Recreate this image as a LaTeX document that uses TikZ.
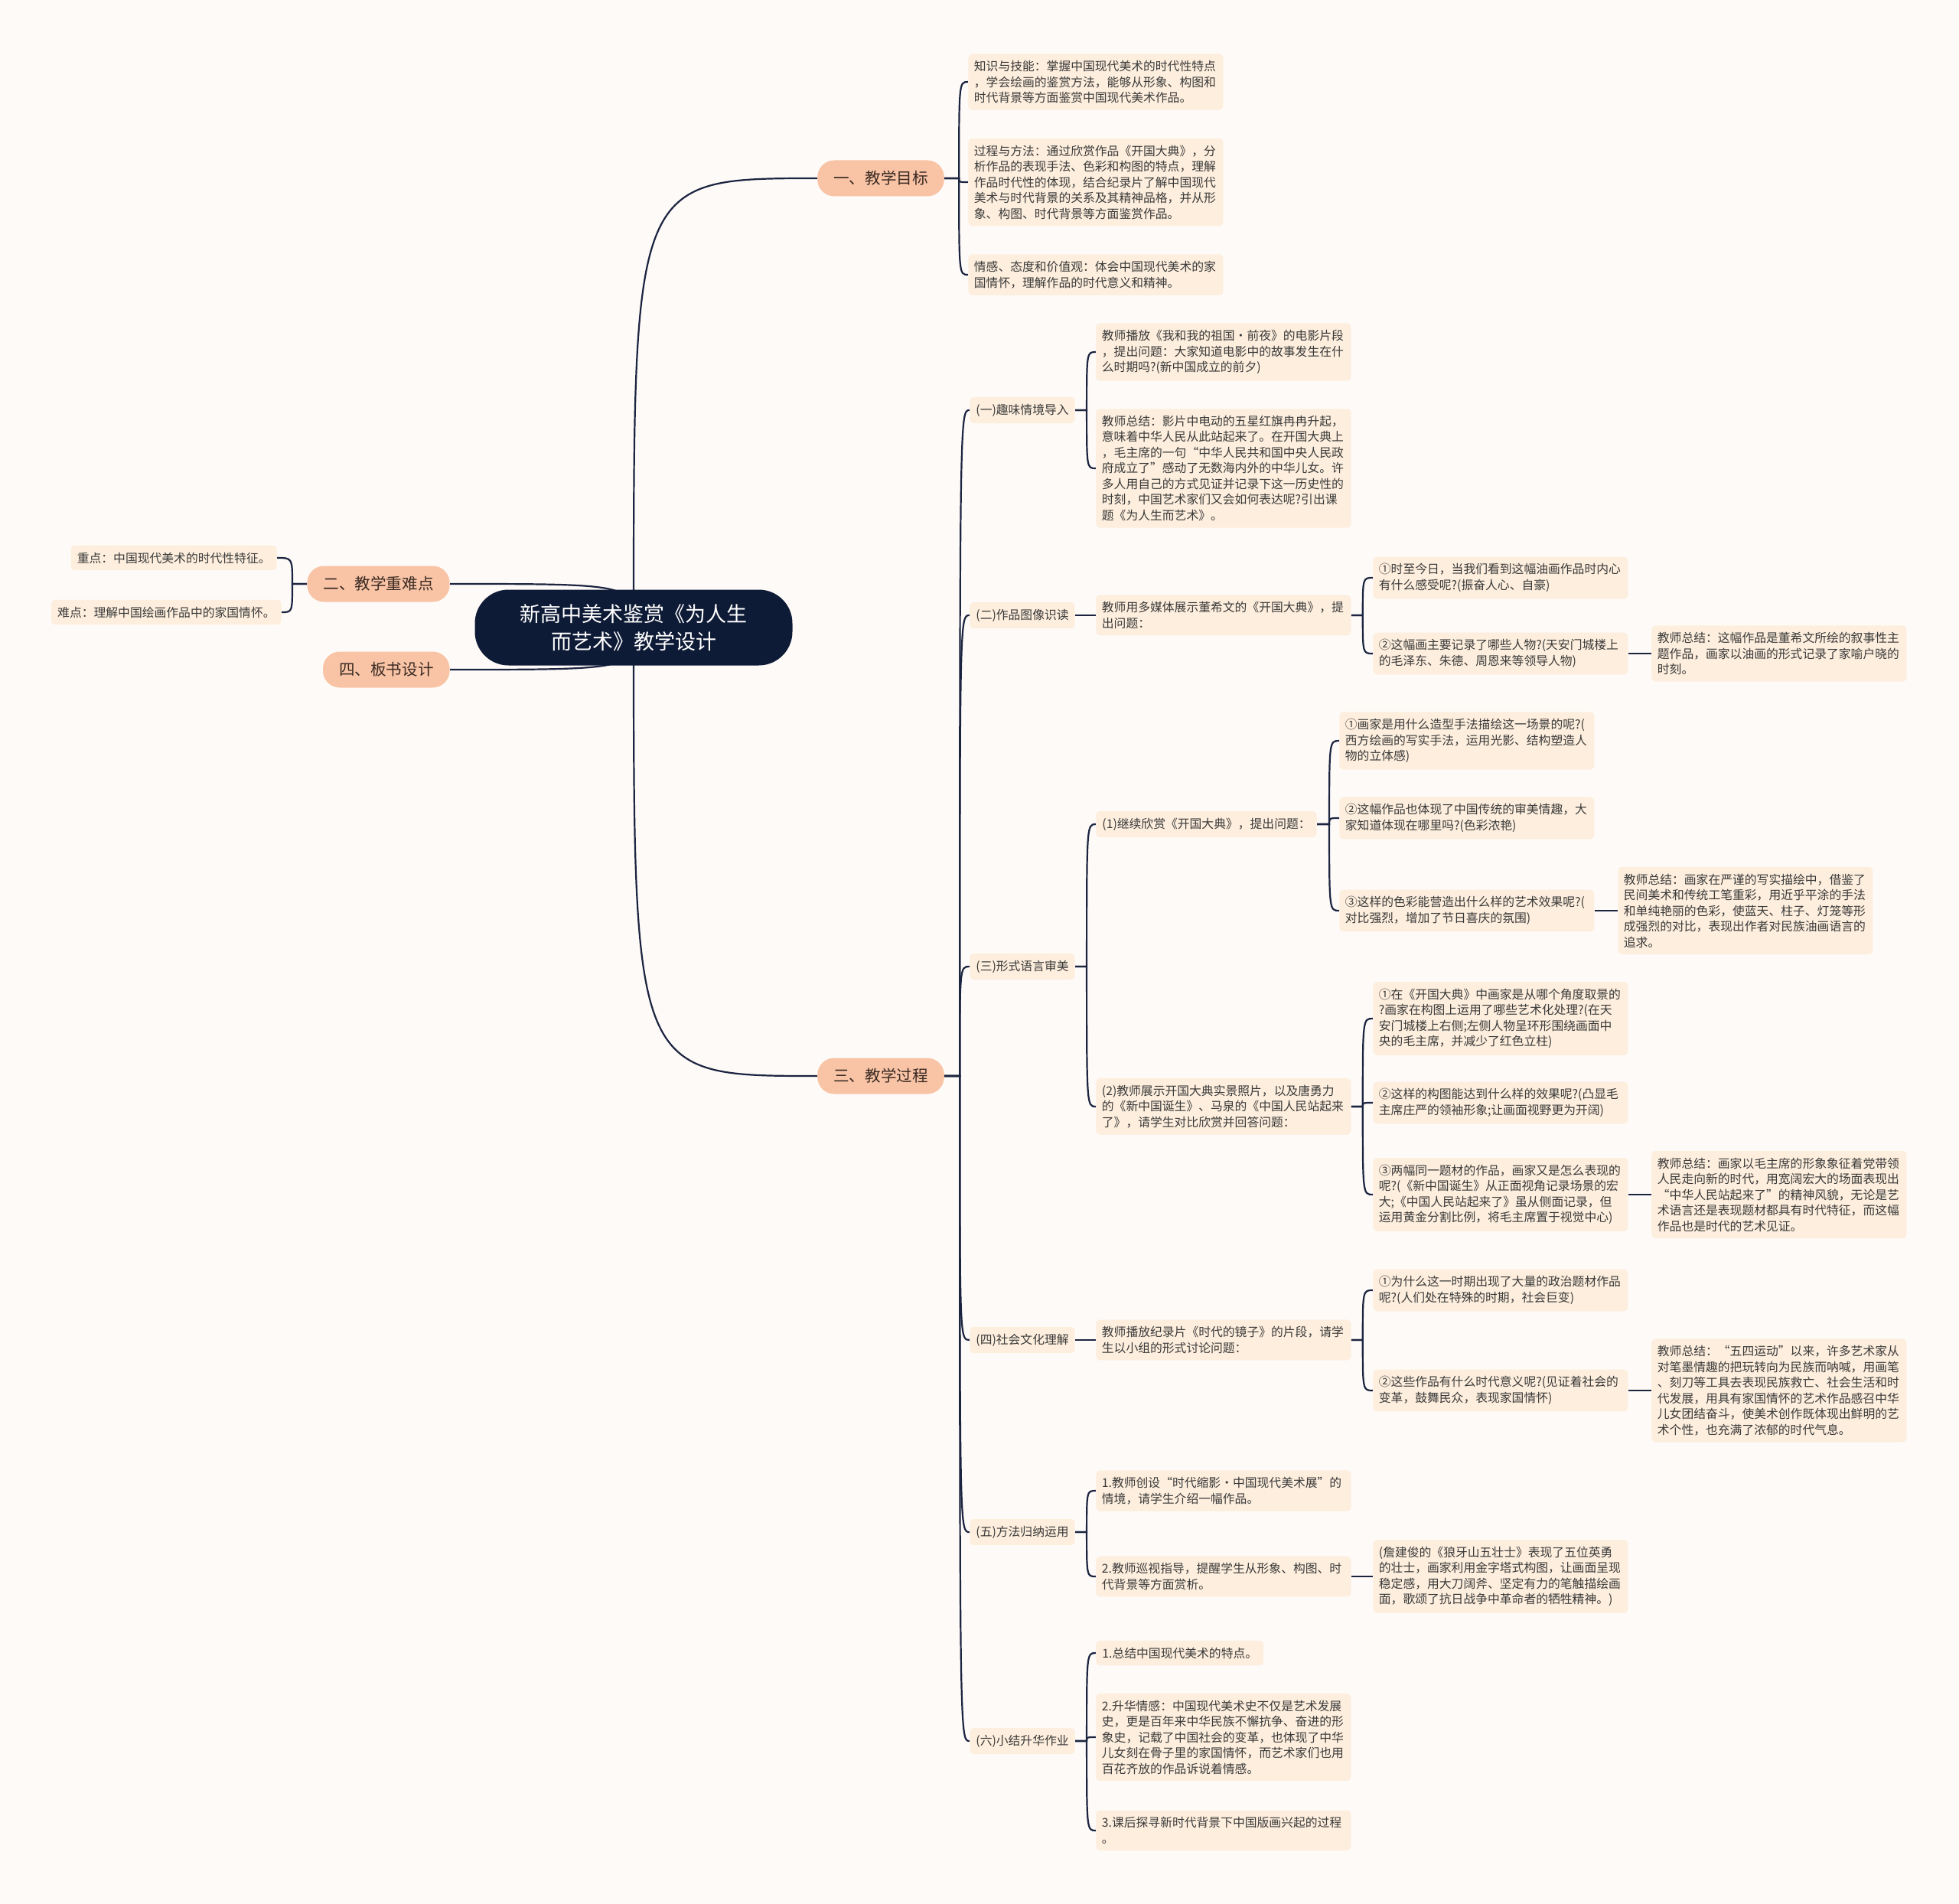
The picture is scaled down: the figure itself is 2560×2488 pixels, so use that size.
\documentclass[tikz,border=0pt]{standalone}
\usepackage{fontspec}
\newfontfamily\cjk{Noto Sans CJK SC}
\usetikzlibrary{backgrounds}
\definecolor{bgc}{HTML}{FEFAF7}
\definecolor{leafc}{HTML}{FDEEDD}
\definecolor{lvlc}{HTML}{F9C4A6}
\definecolor{rootc}{HTML}{0E1B36}
\definecolor{edgec}{HTML}{1B2440}
\definecolor{txtc}{HTML}{3A3A3A}
\definecolor{lvltxt}{HTML}{3A2A22}
\tikzset{
  leaf/.style={fill=leafc, rounded corners=2.5pt, font=\cjk\fontsize{7.9pt}{10.25pt}\selectfont, text=txtc, text width=159pt, align=left, inner xsep=3.75pt, inner ysep=4.4pt, anchor=west},
  tagbox/.style={fill=leafc, rounded corners=2.5pt, font=\cjk\fontsize{7.9pt}{10.25pt}\selectfont, text=txtc, inner xsep=4pt, inner ysep=4.4pt, anchor=west},
  lvl/.style={fill=lvlc, rounded corners=11pt, font=\cjk\fontsize{10.3pt}{12pt}\selectfont, text=lvltxt, inner xsep=10.5pt, minimum height=23.5pt},
  rootn/.style={fill=rootc, rounded corners=22pt, text=white, font=\cjk\fontsize{13.5pt}{18pt}\selectfont, align=center, minimum width=207.5pt, minimum height=49.5pt},
  edge/.style={draw=edgec, line width=1.1pt},
}
\newcommand\edgeR[3]{\draw[edge] (#1.east) -- (#2) .. controls (#2 |- #3.west) .. (#3.west);}
\newcommand\edgeL[3]{\draw[edge] (#1.west) -- (#2) .. controls (#2 |- #3.east) .. (#3.east);}
\begin{document}
\begin{tikzpicture}[x=0.5pt,y=-0.5pt]
\begin{scope}[on background layer]
\fill[bgc] (0,0) rectangle (2560,2488);
\end{scope}
\useasboundingbox (0,0) rectangle (2560,2488);

% root and level 1
\node[rootn] (root) at (828,820) {新高中美术鉴赏《为人生\\而艺术》教学设计};
\node[lvl] (l1) at (1151,233) {一、教学目标};
\node[lvl] (l3) at (1151,1406) {三、教学过程};
\node[lvl,anchor=east] (l2) at (588,763) {二、教学重难点};
\node[lvl,anchor=east] (l4) at (588,875) {四、板书设计};

% left leaves
\node[tagbox,anchor=east] (k1) at (362,729) {重点：中国现代美术的时代性特征。};
\node[tagbox,anchor=east] (k2) at (368,800) {难点：理解中国绘画作品中的家国情怀。};

% teaching goals
\node[leaf] (g1) at (1265,107) {知识与技能：掌握中国现代美术的时代性特点\\，学会绘画的鉴赏方法，能够从形象、构图和\\时代背景等方面鉴赏中国现代美术作品。};
\node[leaf] (g2) at (1265,238) {过程与方法：通过欣赏作品《开国大典》，分\\析作品的表现手法、色彩和构图的特点，理解\\作品时代性的体现，结合纪录片了解中国现代\\美术与时代背景的关系及其精神品格，并从形\\象、构图、时代背景等方面鉴赏作品。};
\node[leaf] (g3) at (1265,359) {情感、态度和价值观：体会中国现代美术的家\\国情怀，理解作品的时代意义和精神。};

% process tags
\node[tagbox] (t1) at (1267,536) {(一)趣味情境导入};
\node[tagbox] (t2) at (1267,804) {(二)作品图像识读};
\node[tagbox] (t3) at (1267,1263) {(三)形式语言审美};
\node[tagbox] (t4) at (1267,1751) {(四)社会文化理解};
\node[tagbox] (t5) at (1267,2002) {(五)方法归纳运用};
\node[tagbox] (t6) at (1267,2275) {(六)小结升华作业};

% (一)
\node[leaf] (a1) at (1432,460) {教师播放《我和我的祖国·前夜》的电影片段\\，提出问题：大家知道电影中的故事发生在什\\么时期吗?(新中国成立的前夕)};
\node[leaf] (a2) at (1432,612) {教师总结：影片中电动的五星红旗冉冉升起，\\意味着中华人民从此站起来了。在开国大典上\\，毛主席的一句“中华人民共和国中央人民政\\府成立了”感动了无数海内外的中华儿女。许\\多人用自己的方式见证并记录下这一历史性的\\时刻，中国艺术家们又会如何表达呢?引出课\\题《为人生而艺术》。};

% (二)
\node[leaf] (b0) at (1432,804) {教师用多媒体展示董希文的《开国大典》，提\\出问题：};
\node[leaf] (b1) at (1794,755) {①时至今日，当我们看到这幅油画作品时内心\\有什么感受呢?(振奋人心、自豪)};
\node[leaf] (b2) at (1794,854) {②这幅画主要记录了哪些人物?(天安门城楼上\\的毛泽东、朱德、周恩来等领导人物)};
\node[leaf] (b3) at (2158,854) {教师总结：这幅作品是董希文所绘的叙事性主\\题作品，画家以油画的形式记录了家喻户晓的\\时刻。};

% (三)
\node[tagbox] (c1) at (1432,1077) {(1)继续欣赏《开国大典》，提出问题：};
\node[leaf] (c2) at (1432,1446) {(2)教师展示开国大典实景照片，以及唐勇力\\的《新中国诞生》、马泉的《中国人民站起来\\了》，请学生对比欣赏并回答问题：};
\node[leaf] (c1a) at (1750,968) {①画家是用什么造型手法描绘这一场景的呢?(\\西方绘画的写实手法，运用光影、结构塑造人\\物的立体感)};
\node[leaf] (c1b) at (1750,1069) {②这幅作品也体现了中国传统的审美情趣，大\\家知道体现在哪里吗?(色彩浓艳)};
\node[leaf] (c1c) at (1750,1190) {③这样的色彩能营造出什么样的艺术效果呢?(\\对比强烈，增加了节日喜庆的氛围)};
\node[leaf] (c1d) at (2114,1190) {教师总结：画家在严谨的写实描绘中，借鉴了\\民间美术和传统工笔重彩，用近乎平涂的手法\\和单纯艳丽的色彩，使蓝天、柱子、灯笼等形\\成强烈的对比，表现出作者对民族油画语言的\\追求。};
\node[leaf] (c2a) at (1794,1331) {①在《开国大典》中画家是从哪个角度取景的\\?画家在构图上运用了哪些艺术化处理?(在天\\安门城楼上右侧;左侧人物呈环形围绕画面中\\央的毛主席，并减少了红色立柱)};
\node[leaf] (c2b) at (1794,1441) {②这样的构图能达到什么样的效果呢?(凸显毛\\主席庄严的领袖形象;让画面视野更为开阔)};
\node[leaf] (c2c) at (1794,1561) {③两幅同一题材的作品，画家又是怎么表现的\\呢?(《新中国诞生》从正面视角记录场景的宏\\大;《中国人民站起来了》虽从侧面记录，但\\运用黄金分割比例，将毛主席置于视觉中心)};
\node[leaf] (c2d) at (2158,1561) {教师总结：画家以毛主席的形象象征着党带领\\人民走向新的时代，用宽阔宏大的场面表现出\\“中华人民站起来了”的精神风貌，无论是艺\\术语言还是表现题材都具有时代特征，而这幅\\作品也是时代的艺术见证。};

% (四)
\node[leaf] (d0) at (1432,1751) {教师播放纪录片《时代的镜子》的片段，请学\\生以小组的形式讨论问题：};
\node[leaf] (d1) at (1794,1686) {①为什么这一时期出现了大量的政治题材作品\\呢?(人们处在特殊的时期，社会巨变)};
\node[leaf] (d2) at (1794,1817) {②这些作品有什么时代意义呢?(见证着社会的\\变革，鼓舞民众，表现家国情怀)};
\node[leaf] (d3) at (2158,1817) {教师总结：“五四运动”以来，许多艺术家从\\对笔墨情趣的把玩转向为民族而呐喊，用画笔\\、刻刀等工具去表现民族救亡、社会生活和时\\代发展，用具有家国情怀的艺术作品感召中华\\儿女团结奋斗，使美术创作既体现出鲜明的艺\\术个性，也充满了浓郁的时代气息。};

% (五)
\node[leaf] (e1) at (1432,1948) {1.教师创设“时代缩影·中国现代美术展”的\\情境，请学生介绍一幅作品。};
\node[leaf] (e2) at (1432,2060) {2.教师巡视指导，提醒学生从形象、构图、时\\代背景等方面赏析。};
\node[leaf] (e3) at (1794,2060) {(詹建俊的《狼牙山五壮士》表现了五位英勇\\的壮士，画家利用金字塔式构图，让画面呈现\\稳定感，用大刀阔斧、坚定有力的笔触描绘画\\面，歌颂了抗日战争中革命者的牺牲精神。)};

% (六)
\node[tagbox] (f1) at (1432,2160) {1.总结中国现代美术的特点。};
\node[leaf] (f2) at (1432,2270) {2.升华情感：中国现代美术史不仅是艺术发展\\史，更是百年来中华民族不懈抗争、奋进的形\\象史，记载了中国社会的变革，也体现了中华\\儿女刻在骨子里的家国情怀，而艺术家们也用\\百花齐放的作品诉说着情感。};
\node[leaf] (f3) at (1432,2392) {3.课后探寻新时代背景下中国版画兴起的过程\\。};

% junctions
\path (l1.east) ++(19,0) coordinate (j1);
\path (l3.east) ++(20,0) coordinate (j3);
\path (l2.west) ++(-19,0) coordinate (j2);
\path (t1.east) ++(15,0) coordinate (jt1);
\path (b0.east) ++(15,0) coordinate (jb0);
\path (t3.east) ++(15,0) coordinate (jt3);
\path (c1.east) ++(16,0) coordinate (jc1);
\path (c2.east) ++(15,0) coordinate (jc2);
\path (d0.east) ++(15,0) coordinate (jd0);
\path (t5.east) ++(15,0) coordinate (jt5);
\path (t6.east) ++(15,0) coordinate (jt6);

\begin{scope}[on background layer]
\draw[edge] (root.center) .. controls (root.center |- l1.west) .. (l1.west);
\draw[edge] (root.center) .. controls (root.center |- l3.west) .. (l3.west);
\draw[edge] (root.center) .. controls (root.center |- l2.east) .. (l2.east);
\draw[edge] (root.center) .. controls (root.center |- l4.east) .. (l4.east);
\edgeR{l1}{j1}{g1}\edgeR{l1}{j1}{g2}\edgeR{l1}{j1}{g3}
\edgeL{l2}{j2}{k1}\edgeL{l2}{j2}{k2}
\edgeR{l3}{j3}{t1}\edgeR{l3}{j3}{t2}\edgeR{l3}{j3}{t3}
\edgeR{l3}{j3}{t4}\edgeR{l3}{j3}{t5}\edgeR{l3}{j3}{t6}
\edgeR{t1}{jt1}{a1}\edgeR{t1}{jt1}{a2}
\draw[edge] (t2.east) -- (b0.west);
\edgeR{b0}{jb0}{b1}\edgeR{b0}{jb0}{b2}
\draw[edge] (b2.east) -- (b3.west);
\edgeR{t3}{jt3}{c1}\edgeR{t3}{jt3}{c2}
\edgeR{c1}{jc1}{c1a}\edgeR{c1}{jc1}{c1b}\edgeR{c1}{jc1}{c1c}
\draw[edge] (c1c.east) -- (c1d.west);
\edgeR{c2}{jc2}{c2a}\edgeR{c2}{jc2}{c2b}\edgeR{c2}{jc2}{c2c}
\draw[edge] (c2c.east) -- (c2d.west);
\draw[edge] (t4.east) -- (d0.west);
\edgeR{d0}{jd0}{d1}\edgeR{d0}{jd0}{d2}
\draw[edge] (d2.east) -- (d3.west);
\edgeR{t5}{jt5}{e1}\edgeR{t5}{jt5}{e2}
\draw[edge] (e2.east) -- (e3.west);
\edgeR{t6}{jt6}{f1}\edgeR{t6}{jt6}{f2}\edgeR{t6}{jt6}{f3}
\end{scope}
\end{tikzpicture}
\end{document}
